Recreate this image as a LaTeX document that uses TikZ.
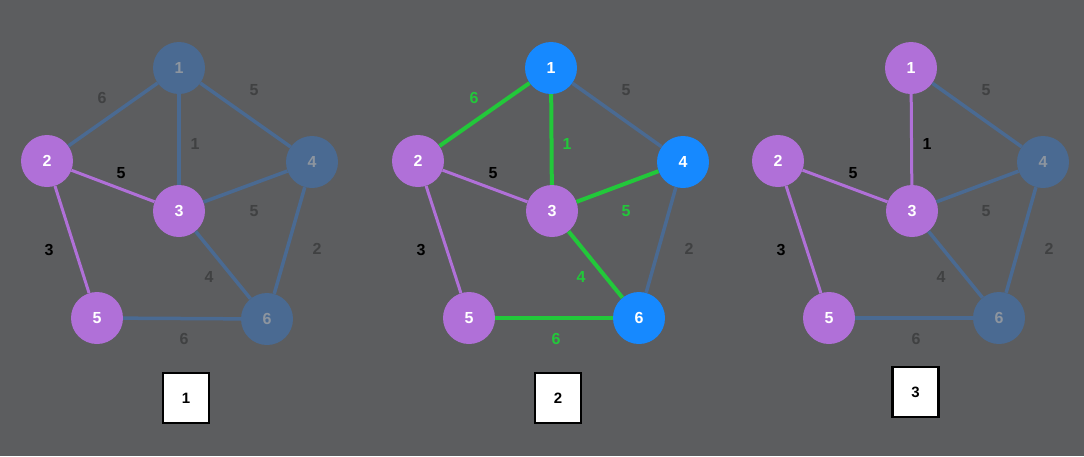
\documentclass[tikz,border=0pt]{standalone}
\usepackage{fontspec}
\setmainfont{Liberation Sans}
\usepackage{tikz}

\definecolor{bgc}{HTML}{5C5D5F}
\definecolor{slate}{HTML}{4A6A92}
\definecolor{slatetxt}{HTML}{8D959F}
\definecolor{violet}{HTML}{B070D8}
\definecolor{azure}{HTML}{1689FF}
\definecolor{leaf}{HTML}{22C83A}
\definecolor{wgray}{HTML}{404142}

\tikzset{
  vtx/.style={shape=circle, minimum size=52pt, inner sep=0pt, font=\fontsize{16}{16}\selectfont\bfseries},
  slatevtx/.style={vtx, fill=slate, text=slatetxt},
  purpvtx/.style={vtx, fill=violet, text=white},
  bluevtx/.style={vtx, fill=azure, text=white},
  sedge/.style={draw=slate, line width=3.5pt},
  pedge/.style={draw=violet, line width=3pt},
  gedge/.style={draw=leaf, line width=4pt},
  wlbl/.style={font=\fontsize{16}{16}\selectfont\bfseries, text=wgray},
  blbl/.style={font=\fontsize{16}{16}\selectfont\bfseries, text=black},
  glbl/.style={font=\fontsize{16}{16}\selectfont\bfseries, text=leaf},
  card/.style={draw=black, fill=white, line width=2.5pt, minimum width=46pt, minimum height=50pt, inner sep=0pt, font=\fontsize{15}{15}\selectfont\bfseries}
}

\begin{document}
\begin{tikzpicture}[x=1pt, y=-1pt]

\fill [bgc] (0, 0) rectangle (1084, 456);
\useasboundingbox (0, 0) rectangle (1084, 456);

% first graph
\begin{scope}[shift={(179, 68)}]
\node (a1) at (0, 0) [slatevtx]{1};
\node (a2) at (-132, 93) [purpvtx]{2};
\node (a3) at (0, 143) [purpvtx]{3};
\node (a4) at (133, 94) [slatevtx]{4};
\node (a5) at (-82, 250) [purpvtx]{5};
\node (a6) at (88, 251) [slatevtx]{6};

\node (a12w) at (-77, 30) [wlbl]{6};
\node (a14w) at (75, 22) [wlbl]{5};
\node (a13w) at (16, 76) [wlbl]{1};
\node (a23w) at (-58, 105) [blbl]{5};
\node (a34w) at (75, 143) [wlbl]{5};
\node (a25w) at (-130, 182) [blbl]{3};
\node (a46w) at (138, 181) [wlbl]{2};
\node (a36w) at (30, 209) [wlbl]{4};
\node (a56w) at (5, 271) [wlbl]{6};

\draw [sedge] (a1) -- (a2);
\draw [sedge] (a1) -- (a3);
\draw [sedge] (a1) -- (a4);
\draw [pedge] (a2) -- (a3);
\draw [pedge] (a2) -- (a5);
\draw [sedge] (a3) -- (a4);
\draw [sedge] (a3) -- (a6);
\draw [sedge] (a4) -- (a6);
\draw [sedge] (a5) -- (a6);
\end{scope}

% second graph
\begin{scope}[shift={(551, 68)}]
\node (b1) at (0, 0) [bluevtx]{1};
\node (b2) at (-133, 93) [purpvtx]{2};
\node (b3) at (1, 143) [purpvtx]{3};
\node (b4) at (132, 94) [bluevtx]{4};
\node (b5) at (-82, 250) [purpvtx]{5};
\node (b6) at (88, 250) [bluevtx]{6};

\node (b12w) at (-77, 30) [glbl]{6};
\node (b14w) at (75, 22) [wlbl]{5};
\node (b13w) at (16, 76) [glbl]{1};
\node (b23w) at (-58, 105) [blbl]{5};
\node (b34w) at (75, 143) [glbl]{5};
\node (b25w) at (-130, 182) [blbl]{3};
\node (b46w) at (138, 181) [wlbl]{2};
\node (b36w) at (30, 209) [glbl]{4};
\node (b56w) at (5, 271) [glbl]{6};

\draw [gedge] (b1) -- (b2);
\draw [gedge] (b1) -- (b3);
\draw [sedge] (b1) -- (b4);
\draw [pedge] (b2) -- (b3);
\draw [pedge] (b2) -- (b5);
\draw [gedge] (b3) -- (b4);
\draw [gedge] (b3) -- (b6);
\draw [sedge] (b4) -- (b6);
\draw [gedge] (b5) -- (b6);
\end{scope}

% third graph
\begin{scope}[shift={(911, 68)}]
\node (c1) at (0, 0) [purpvtx]{1};
\node (c2) at (-133, 93) [purpvtx]{2};
\node (c3) at (1, 143) [purpvtx]{3};
\node (c4) at (132, 94) [slatevtx]{4};
\node (c5) at (-82, 250) [purpvtx]{5};
\node (c6) at (88, 250) [slatevtx]{6};

\node (c14w) at (75, 22) [wlbl]{5};
\node (c13w) at (16, 76) [blbl]{1};
\node (c23w) at (-58, 105) [blbl]{5};
\node (c34w) at (75, 143) [wlbl]{5};
\node (c25w) at (-130, 182) [blbl]{3};
\node (c46w) at (138, 181) [wlbl]{2};
\node (c36w) at (30, 209) [wlbl]{4};
\node (c56w) at (5, 271) [wlbl]{6};

\draw [pedge] (c1) -- (c3);
\draw [sedge] (c1) -- (c4);
\draw [pedge] (c2) -- (c3);
\draw [pedge] (c2) -- (c5);
\draw [sedge] (c3) -- (c4);
\draw [sedge] (c3) -- (c6);
\draw [sedge] (c4) -- (c6);
\draw [sedge] (c5) -- (c6);
\end{scope}

% step cards
\node (card1) at (186, 398) [card]{1};
\node (card2) at (558, 398) [card]{2};
\node (card3) at (915.5, 392) [card]{3};

\end{tikzpicture}
\end{document}
